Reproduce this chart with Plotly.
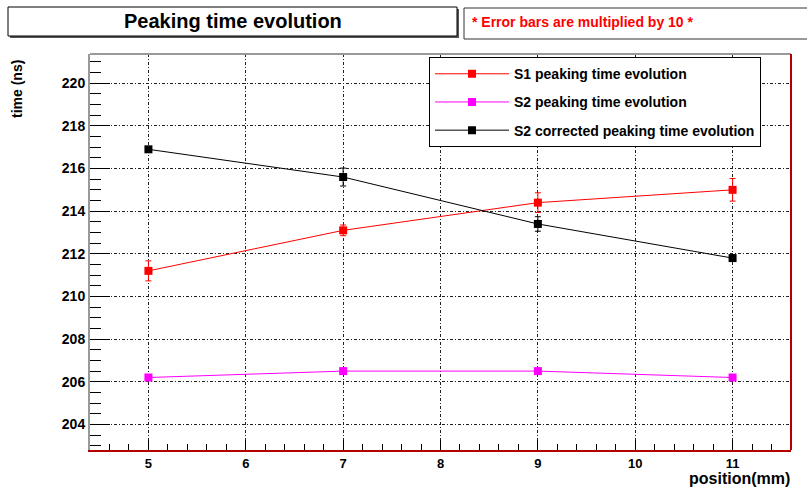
import plotly.graph_objects as go

# Scan positions (mm)
position = [5, 7, 9, 11]

# Peaking times (ns)
s1_time = [211.2, 213.1, 214.4, 215.0]
s2_time = [206.2, 206.5, 206.5, 206.2]
s2c_time = [216.9, 215.6, 213.4, 211.8]

# Error bars as drawn (already scaled x10)
s1_err = [0.47, 0.25, 0.46, 0.53]
s2_err = [0.12, 0.12, 0.12, 0.12]
s2c_err = [0.12, 0.42, 0.34, 0.12]

series = [
    ("S1 peaking time evolution", s1_time, s1_err, "#ff0000"),
    ("S2 peaking time evolution", s2_time, s2_err, "#ff00ff"),
    ("S2 corrected peaking time evolution", s2c_time, s2c_err, "#000000"),
]

FONT = "Liberation Sans"

fig = go.Figure()
for i, (name, y, err, col) in enumerate(series):
    fig.add_trace(go.Scatter(
        x=position, y=y, name=name, mode="lines+markers",
        legendgroup=f"g{i}",
        line=dict(color=col, width=1),
        marker=dict(symbol="square", size=8, color=col),
        error_y=dict(type="data", array=err, visible=True,
                     color=col, thickness=1, width=3),
    ))

L, R, T, B = 90, 16, 54, 38
W, H = 807, 488

grid_dash = "3px,2px,1px,2px"

fig.update_layout(
    width=W, height=H,
    margin=dict(l=L, r=R, t=T, b=B),
    paper_bgcolor="white", plot_bgcolor="white",
    font=dict(family=FONT, color="black"),
    showlegend=True,
    legend=dict(
        x=0.4836, y=0.992, xanchor="left", yanchor="top",
        bgcolor="white", bordercolor="black", borderwidth=1,
        font=dict(family=FONT, size=14, weight="bold", color="black"),
        itemwidth=74, tracegroupgap=7,
    ),
    xaxis=dict(
        range=[4.4, 11.6], dtick=1, tick0=5,
        ticks="inside", ticklen=10, tickcolor="black", tickwidth=1,
        minor=dict(dtick=0.2, tick0=5, ticks="inside", ticklen=6,
                   tickcolor="black", showgrid=False),
        showgrid=True, gridcolor="#222", gridwidth=1, griddash=grid_dash,
        showline=True, linecolor="#b00000", linewidth=2,
        zeroline=False,
        tickfont=dict(family=FONT, size=13, weight="bold", color="black"),
    ),
    yaxis=dict(
        range=[202.8, 221.37], dtick=2, tick0=204,
        ticks="inside", ticklen=20, tickcolor="black", tickwidth=1,
        minor=dict(dtick=0.5, tick0=204, ticks="inside", ticklen=11,
                   tickcolor="black", showgrid=False),
        showgrid=True, gridcolor="#222", gridwidth=1, griddash=grid_dash,
        showline=True, linecolor="#999999", linewidth=2,
        zeroline=False,
        tickfont=dict(family=FONT, size=14, weight="bold", color="black"),
    ),
)

# Frame: top edge grey, right edge red
fig.add_shape(type="line", xref="paper", yref="paper", x0=0, x1=1, y0=1, y1=1,
              line=dict(color="#999999", width=2))
fig.add_shape(type="line", xref="paper", yref="paper", x0=1, x1=1, y0=0, y1=1,
              line=dict(color="#b00000", width=2))

# Pixel helpers for the header boxes (paper coords spanning the whole page)
def px(x):
    return (x - L) / (W - L - R)

def py(y):
    return (H - B - y) / (H - T - B)

# Title box with shadow
fig.add_shape(type="rect", xref="paper", yref="paper",
              x0=px(10), x1=px(459), y0=py(38), y1=py(9),
              line=dict(width=0), fillcolor="#555555", layer="above")
fig.add_shape(type="rect", xref="paper", yref="paper",
              x0=px(8), x1=px(457), y0=py(36), y1=py(7),
              line=dict(color="black", width=1), fillcolor="white", layer="above")
fig.add_annotation(xref="paper", yref="paper", x=px(233), y=py(21),
                   text="Peaking time evolution", showarrow=False,
                   font=dict(family=FONT, size=20, weight="bold", color="black"),
                   xanchor="center", yanchor="middle")

# Note box
fig.add_shape(type="rect", xref="paper", yref="paper",
              x0=px(464), x1=px(812), y0=py(39), y1=py(8),
              line=dict(color="#333333", width=1), fillcolor="white", layer="above")
fig.add_annotation(xref="paper", yref="paper", x=px(470), y=py(22),
                   text="* Error bars are multiplied by 10 *", showarrow=False,
                   font=dict(family=FONT, size=14, weight="bold", color="#ff0000"),
                   xanchor="left", yanchor="middle")

# Axis titles
fig.add_annotation(xref="paper", yref="paper", x=px(17), y=py(58),
                   text="time (ns)", showarrow=False, textangle=-90,
                   font=dict(family=FONT, size=14, weight="bold", color="black"),
                   xanchor="center", yanchor="top")
fig.add_annotation(xref="paper", yref="paper", x=px(791), y=py(488),
                   text="position(mm)", showarrow=False, borderpad=0,
                   font=dict(family=FONT, size=16, weight="bold", color="black"),
                   xanchor="right", yanchor="bottom")

fig.write_html("out.html")
